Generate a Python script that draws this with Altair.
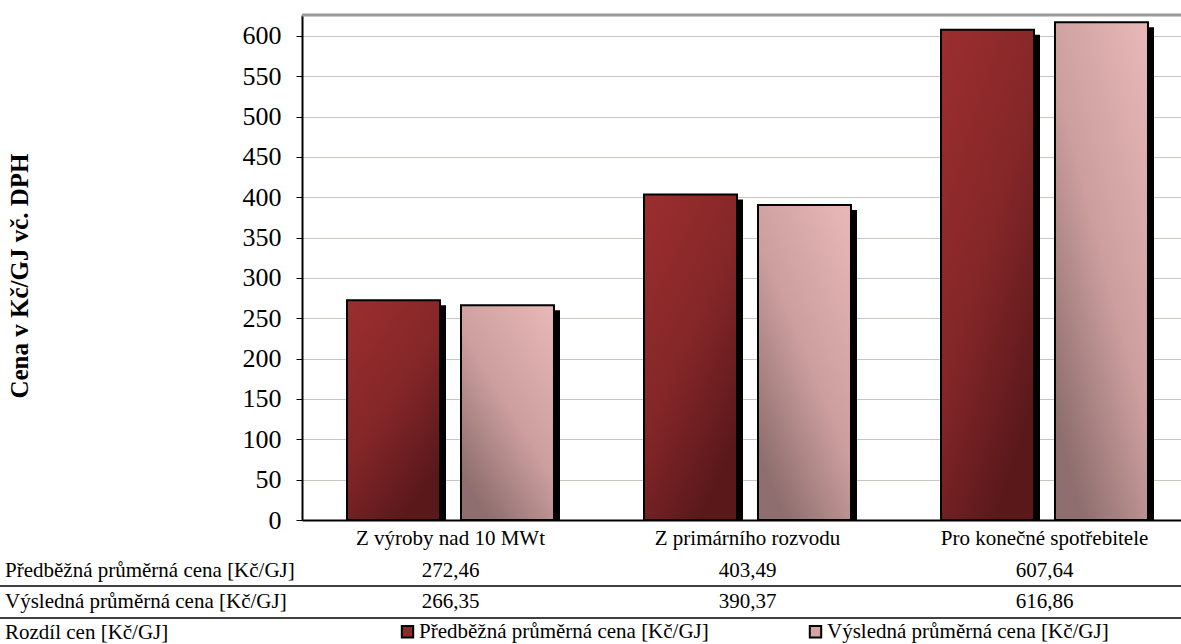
import altair as alt
import pandas as pd

categories = ["Z výroby nad 10 MWt", "Z primárního rozvodu", "Pro konečné spotřebitele"]
series = ["Předběžná průměrná cena [Kč/GJ]", "Výsledná průměrná cena [Kč/GJ]"]
predbezna = [272.46, 403.49, 607.64]
vysledna = [266.35, 390.37, 616.86]
row_labels = ["Předběžná průměrná cena [Kč/GJ]", "Výsledná průměrná cena [Kč/GJ]", "Rozdíl cen [Kč/GJ]"]
y_ticks = [0, 50, 100, 150, 200, 250, 300, 350, 400, 450, 500, 550, 600]

rows = []
for c, p, v in zip(categories, predbezna, vysledna):
    rows.append({"cat": c, "series": series[0], "value": p, "label": f"{p:.2f}".replace(".", ",")})
    rows.append({"cat": c, "series": series[1], "value": v, "label": f"{v:.2f}".replace(".", ",")})
df = pd.DataFrame(rows)

W, H = 879, 505
FONT = "Liberation Serif"
ROW_Y = [562, 593, 624]
BAR_W = 93
HALF_STEP = 57
SH_X, SH_Y = 6, 5

x_enc = alt.X(
    "cat:N", sort=categories,
    scale=alt.Scale(range=[0, 891], paddingInner=0, paddingOuter=0),
    axis=alt.Axis(title=None, labelAngle=0, labelFontSize=21, labelFont=FONT, labelColor="black",
                  labelLimit=0, ticks=False, domainColor="black", domainWidth=2, labelPadding=7),
)
xo_enc = alt.XOffset("series:N", sort=series,
                     scale=alt.Scale(domain=series, paddingInner=0.184, paddingOuter=0.395))
y_enc = alt.Y(
    "value:Q",
    scale=alt.Scale(domain=[0, 626], nice=False),
    axis=alt.Axis(values=y_ticks, title="Cena v Kč/GJ vč. DPH", titleFont=FONT, titleFontSize=25,
                  titleFontWeight="bold", titleColor="black", titleX=-283, titleY=H / 2 + 8,
                  titleAngle=270, titleAlign="center", titleBaseline="middle",
                  labelFont=FONT, labelFontSize=26, labelColor="black", labelPadding=15,
                  tickSize=6, tickColor="black", domainColor="black", domainWidth=2,
                  gridColor="#C9C6C0", gridWidth=1),
)

base = alt.Chart(df)

shadow_p = base.mark_bar(color="black", width=BAR_W, xOffset=-HALF_STEP + SH_X, yOffset=SH_Y, clip=True).encode(
    x=x_enc, y=y_enc).transform_filter(alt.datum.series == series[0])
shadow_v = base.mark_bar(color="black", width=BAR_W, xOffset=HALF_STEP + SH_X, yOffset=SH_Y, clip=True).encode(
    x=x_enc, y=y_enc).transform_filter(alt.datum.series == series[1])

grad_p = alt.LinearGradient(
    gradient="linear", x1=0, y1=0, x2=0.6, y2=1,
    stops=[alt.GradientStop(offset=0, color="#9C2E2E"),
           alt.GradientStop(offset=0.55, color="#842628"),
           alt.GradientStop(offset=1, color="#5A181B")],
)
grad_v = alt.LinearGradient(
    gradient="linear", x1=1, y1=0, x2=0.3, y2=1,
    stops=[alt.GradientStop(offset=0, color="#E9B8B8"),
           alt.GradientStop(offset=0.55, color="#CC9E9E"),
           alt.GradientStop(offset=1, color="#8E6E6E")],
)

bars_p = base.mark_bar(fill=grad_p, stroke="black", strokeWidth=2).encode(
    x=x_enc, xOffset=xo_enc, y=y_enc).transform_filter(alt.datum.series == series[0])
bars_v = base.mark_bar(fill=grad_v, stroke="black", strokeWidth=2).encode(
    x=x_enc, xOffset=xo_enc, y=y_enc).transform_filter(alt.datum.series == series[1])

vals_p = base.mark_text(font=FONT, fontSize=21, color="black", baseline="alphabetic", align="center").encode(
    x=x_enc, y=alt.value(ROW_Y[0]), text="label:N").transform_filter(alt.datum.series == series[0])
vals_v = base.mark_text(font=FONT, fontSize=21, color="black", baseline="alphabetic", align="center").encode(
    x=x_enc, y=alt.value(ROW_Y[1]), text="label:N").transform_filter(alt.datum.series == series[1])

row_texts = []
for i, lab in enumerate(row_labels):
    row_texts.append(
        alt.Chart(pd.DataFrame({"label": [lab]})).mark_text(
            font=FONT, fontSize=21, color="black", baseline="alphabetic", align="left"
        ).encode(x=alt.value(-297), y=alt.value(ROW_Y[i]), text="label:N")
    )

line_df = pd.DataFrame({"k": [0]})
lines = [
    alt.Chart(line_df).mark_rule(color="black", strokeWidth=1.5).encode(
        x=alt.value(-302), x2=alt.value(W), y=alt.value(yy))
    for yy in [571, 603]
]
top_border = alt.Chart(line_df).mark_rule(color="#9A9A9A", strokeWidth=3).encode(
    x=alt.value(0), x2=alt.value(W), y=alt.value(0))

legend_layer = base.mark_square().encode(
    color=alt.Color("series:N",
                    scale=alt.Scale(domain=series, range=["#8E2A2A", "#D4A4A4"]),
                    legend=alt.Legend(orient="none", legendX=95, legendY=606, direction="horizontal",
                                      title=None, symbolType="square", symbolSize=130,
                                      symbolStrokeColor="black", symbolStrokeWidth=2, symbolOpacity=1,
                                      labelFont=FONT, labelFontSize=21, labelColor="black",
                                      labelLimit=0, columnPadding=96, labelOffset=1))
).transform_filter(alt.datum.value < 0)

chart = alt.layer(
    shadow_p, shadow_v, bars_p, bars_v, vals_p, vals_v, *row_texts, *lines, top_border, legend_layer
).properties(
    width=W, height=H,
    autosize=alt.AutoSizeParams(type="none"),
    padding={"left": 302, "top": 15, "right": 0, "bottom": 124},
).configure_view(fill="#ECE9DF", stroke="transparent").configure(background="white")

chart.save("out.html", embed_options={"renderer": "svg", "actions": False})
